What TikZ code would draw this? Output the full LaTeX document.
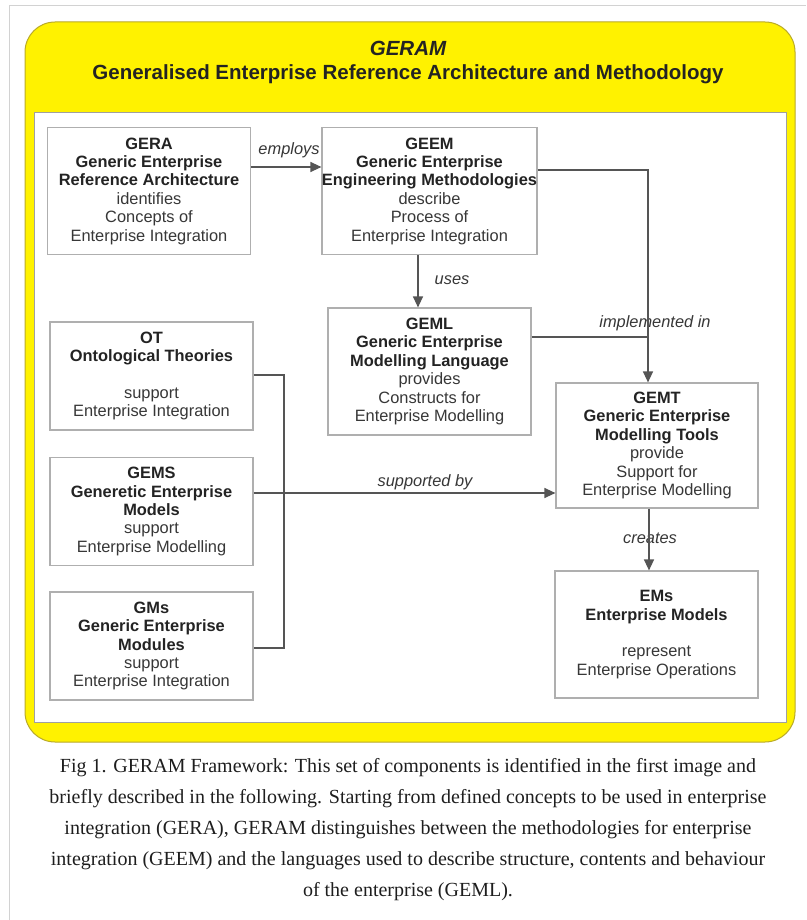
\documentclass[tikz,border=0pt]{standalone}
\usepackage{fontspec}
\setmainfont{Liberation Serif}
\newfontfamily\boxfont{Liberation Sans}
\usetikzlibrary{arrows.meta}

\definecolor{geramyellow}{RGB}{255,242,0}
\definecolor{yellowedge}{RGB}{185,170,40}
\definecolor{innergrey}{RGB}{160,160,160}
\definecolor{boxgrey}{RGB}{175,175,175}
\definecolor{linegrey}{RGB}{85,85,85}
\definecolor{darktext}{RGB}{35,35,35}
\definecolor{textgrey}{RGB}{55,55,55}
\definecolor{framegrey}{RGB}{210,210,210}
\definecolor{captiontext}{RGB}{30,30,30}

% bold heading line inside a component box
\newcommand\hd[1]{{\bfseries\color{darktext}#1}}

\begin{document}
\begin{tikzpicture}[x=1pt,y=-1pt,
  comp/.style={draw=boxgrey, line width=1.2pt, fill=white, minimum width=203pt,
    inner sep=0pt, align=center, text=textgrey,
    font=\boxfont\fontsize{16.4}{18.4}\selectfont},
  tall/.style={minimum height=127pt},
  short/.style={minimum height=108pt},
  link/.style={draw=linegrey, line width=1.3pt},
  arr/.style={link, -{Triangle[length=11pt,width=10pt]}},
  lbl/.style={font=\boxfont\itshape\fontsize{16.4}{18}\selectfont,
    text=textgrey, inner sep=0pt}]

% page
\fill[white] (0,0) rectangle (806,920);
\useasboundingbox (0,0) rectangle (806,920);
\draw[framegrey, line width=1pt] (9,920) -- (9,6) -- (806,6);

% yellow frame and white panel
\draw[fill=geramyellow, draw=yellowedge, line width=1pt, rounded corners=30pt]
  (25,22) rectangle (795,742);
\draw[fill=white, draw=innergrey, line width=1pt] (34,113) rectangle (786,722);

% title
\node[font=\boxfont\bfseries\itshape\fontsize{20.5}{24}\selectfont, text=darktext]
  (title1) at (408,48) {GERAM};
\node[font=\boxfont\bfseries\fontsize{20.5}{24}\selectfont, text=darktext]
  (title2) at (408,74) {Generalised Enterprise Reference Architecture and Methodology};

% components
\node[comp, tall] (gera) at (149,191)
  {\hd{GERA}\\ \hd{Generic Enterprise}\\ \hd{Reference Architecture}\\
   identifies\\ Concepts of\\ Enterprise Integration};
\node[comp, tall] (geem) at (429.5,191)
  {\hd{GEEM}\\ \hd{Generic Enterprise}\\ \hd{Engineering Methodologies}\\
   describe\\ Process of\\ Enterprise Integration};
\node[comp, tall] (geml) at (429.5,371.5)
  {\hd{GEML}\\ \hd{Generic Enterprise}\\ \hd{Modelling Language}\\
   provides\\ Constructs for\\ Enterprise Modelling};
\node[comp, minimum width=202pt, minimum height=125pt] (gemt) at (657,445.5)
  {\hd{GEMT}\\ \hd{Generic Enterprise}\\ \hd{Modelling Tools}\\
   provide\\ Support for\\ Enterprise Modelling};
\node[comp, minimum width=203pt, minimum height=127pt] (ems) at (656.5,634.5)
  {\hd{EMs}\\ \hd{Enterprise Models}\\[18.4pt]
   represent\\ Enterprise Operations};
\node[comp, short] (ot) at (151.5,376)
  {\hd{OT}\\ \hd{Ontological Theories}\\[18.4pt]
   support\\ Enterprise Integration};
\node[comp, short] (gems) at (151.5,511.5)
  {\hd{GEMS}\\ \hd{Generetic Enterprise}\\ \hd{Models}\\
   support\\ Enterprise Modelling};
\node[comp, short] (gms) at (151.5,646)
  {\hd{GMs}\\ \hd{Generic Enterprise}\\ \hd{Modules}\\
   support\\ Enterprise Integration};

% routing points
\coordinate (employsy) at (0,167);
\coordinate (usesx) at (418,0);
\coordinate (toolsbend) at (648,170);
\coordinate (langjoin) at (648,337);
\coordinate (createsx) at (649,0);
\coordinate (brtop) at (284,375);
\coordinate (brbot) at (284,648);
\coordinate (supy) at (0,493);

% connector labels
\node[lbl] (lemploys) at (289,150) {employs};
\node[lbl] (luses) at (452,280) {uses};
\node[lbl] (limpl) at (655,323) {implemented in};
\node[lbl] (lsup) at (425,482) {supported by};
\node[lbl] (lcreates) at (650,538) {creates};

% connectors
\draw[arr] (gera.east |- employsy) -- (geem.west |- employsy);
\draw[arr] (geem.south -| usesx) -- (geml.north -| usesx);
\draw[arr] (geem.east |- toolsbend) -- (toolsbend) -- (gemt.north -| toolsbend);
\draw[link] (geml.east |- langjoin) -- (langjoin);
\draw[arr] (gemt.south -| createsx) -- (ems.north -| createsx);
\draw[link] (ot.east |- brtop) -- (brtop) -- (brbot) -- (gms.east |- brbot);
\draw[arr] (gems.east |- supy) -- (gemt.west |- supy);

% caption
\node[align=center, text=captiontext, font=\fontsize{20}{31}\selectfont]
  (caption) at (408,830)
  {Fig 1. GERAM Framework: This set of components is identified in the first image and\\
   briefly described in the following. Starting from defined concepts to be used in enterprise\\
   integration (GERA), GERAM distinguishes between the methodologies for enterprise\\
   integration (GEEM) and the languages used to describe structure, contents and behaviour\\
   of the enterprise (GEML).};
\end{tikzpicture}
\end{document}
